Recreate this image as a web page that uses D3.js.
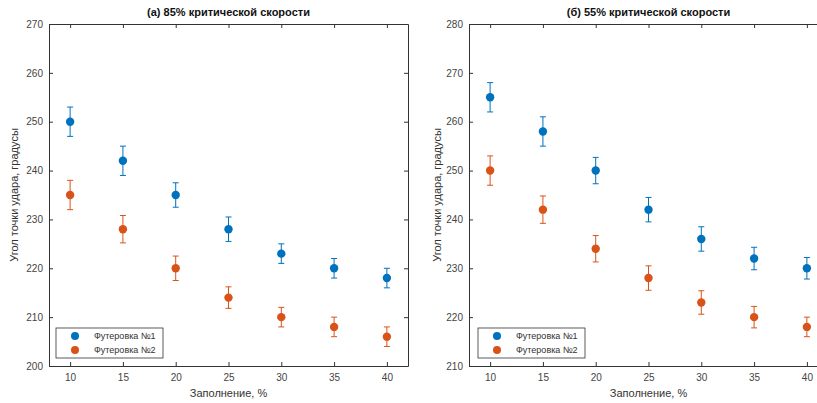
<!DOCTYPE html>
<html>
<head>
<meta charset="utf-8">
<script src="https://cdn.jsdelivr.net/npm/d3@7"></script>
<style>
  body { margin: 0; background: #fff; }
  svg { font-family: "Liberation Sans", Arial, sans-serif; }
</style>
</head>
<body>
<svg id="chart" width="817" height="403"></svg>
<script>
// fill levels, %
const fill = [10, 15, 20, 25, 30, 35, 40];

// (a) 85% of critical speed
const a_lining1 = [250, 242, 235, 228, 223, 220, 218];
const a_lining1_err = [3, 3, 2.5, 2.5, 2, 2, 2];
const a_lining2 = [235, 228, 220, 214, 210, 208, 206];
const a_lining2_err = [3, 2.8, 2.5, 2.2, 2, 2, 2];

// (б) 55% of critical speed
const b_lining1 = [265, 258, 250, 242, 236, 232, 230];
const b_lining1_err = [3, 3, 2.7, 2.5, 2.5, 2.3, 2.2];
const b_lining2 = [250, 242, 234, 228, 223, 220, 218];
const b_lining2_err = [3, 2.8, 2.7, 2.5, 2.4, 2.2, 2];

const a_yticks = [200, 210, 220, 230, 240, 250, 260, 270];
const b_yticks = [210, 220, 230, 240, 250, 260, 270, 280];

const seriesNames = ["Футеровка №1", "Футеровка №2"];
const colors = ["#0072BD", "#D95319"];

const svg = d3.select("#chart");

function buildPanel(opts) {
    var margin = {left: opts.left, top: 24};
    var width = 359, height = 342;

    const g = svg.append("g")
        .attr("transform", "translate(" + margin.left + "," + margin.top + ")");

    const x = d3.scaleLinear().domain([8, 42]).range([0, width]);
    const y = d3.scaleLinear().domain(opts.ydomain).range([height, 0]);

    // ticks inside, like matlab
    const xAxis = d3.axisBottom(x).tickValues(fill).tickSizeInner(-4).tickSizeOuter(0).tickPadding(8);
    const yAxis = d3.axisLeft(y).tickValues(opts.yticks).tickSizeInner(-4).tickSizeOuter(0).tickPadding(6);

    const gx = g.append("g").attr("transform", "translate(0," + height + ")").call(xAxis);
    const gy = g.append("g").call(yAxis);
    // top and right mirror ticks
    const gxt = g.append("g").call(d3.axisTop(x).tickValues(fill).tickSizeInner(-4).tickSizeOuter(0).tickFormat(""));
    const gyr = g.append("g").attr("transform", "translate(" + width + ",0)")
        .call(d3.axisRight(y).tickValues(opts.yticks).tickSizeInner(-4).tickSizeOuter(0).tickFormat(""));

    [gx, gy, gxt, gyr].forEach(function(a) {
        a.select(".domain").attr("stroke", "#333").attr("stroke-width", 1);
        a.selectAll(".tick line").attr("stroke", "#333");
        a.selectAll(".tick text").attr("fill", "#444").style("font-size", "10px");
    });

    // title
    g.append("text")
        .attr("x", width / 2)
        .attr("y", -8)
        .attr("text-anchor", "middle")
        .style("font-size", "11px")
        .style("font-weight", 700)
        .attr("fill", "#111")
        .text(opts.title);

    // axis labels
    g.append("text")
        .attr("x", x(25))
        .attr("y", height + 31)
        .attr("text-anchor", "middle")
        .style("font-size", "11px")
        .attr("fill", "#333")
        .text("Заполнение, %");

    g.append("text")
        .attr("transform", "translate(" + (-opts.ylabelOff) + "," + (height / 2) + ") rotate(-90)")
        .attr("text-anchor", "middle")
        .style("font-size", "11px")
        .attr("fill", "#333")
        .text("Угол точки удара, градусы");

    // error bars + markers
    opts.series.forEach(function(s, i) {
        const pts = fill.map(function(f, k) { return {x: f, v: s.vals[k], e: s.errs[k]}; });
        const eg = g.append("g").attr("stroke", colors[i]).attr("stroke-width", 1);
        eg.selectAll(".stem").data(pts).join("line")
            .attr("x1", d => x(d.x)).attr("x2", d => x(d.x))
            .attr("y1", d => y(d.v - d.e)).attr("y2", d => y(d.v + d.e));
        eg.selectAll(".capt").data(pts).join("line")
            .attr("x1", d => x(d.x) - 3).attr("x2", d => x(d.x) + 3)
            .attr("y1", d => y(d.v + d.e)).attr("y2", d => y(d.v + d.e));
        eg.selectAll(".capb").data(pts).join("line")
            .attr("x1", d => x(d.x) - 3).attr("x2", d => x(d.x) + 3)
            .attr("y1", d => y(d.v - d.e)).attr("y2", d => y(d.v - d.e));
        g.append("g").selectAll("circle").data(pts).join("circle")
            .attr("cx", d => x(d.x))
            .attr("cy", d => y(d.v))
            .attr("r", 4.2)
            .attr("fill", colors[i]);
    });

    // legend
    const lg = g.append("g").attr("transform", "translate(" + opts.legendX + "," + (height - 38) + ")");
    lg.append("rect")
        .attr("width", 107).attr("height", 30)
        .attr("fill", "#fff").attr("stroke", "#333").attr("stroke-width", 0.8);
    seriesNames.forEach(function(n, i) {
        const yy = 8 + i * 14;
        lg.append("line").attr("x1", 19).attr("x2", 19).attr("y1", yy - 3).attr("y2", yy + 3)
            .attr("stroke", colors[i]);
        lg.append("circle").attr("cx", 19).attr("cy", yy).attr("r", 4).attr("fill", colors[i]);
        lg.append("text").attr("x", 38).attr("y", yy + 3)
            .style("font-size", "9px").attr("fill", "#333").text(n);
    });
}

buildPanel({
    left: 49, title: "(а) 85% критической скорости", ydomain: [200, 270], yticks: a_yticks,
    ylabelOff: 31, legendX: 7,
    series: [{vals: a_lining1, errs: a_lining1_err}, {vals: a_lining2, errs: a_lining2_err}]
});
buildPanel({
    left: 469, title: "(б) 55% критической скорости", ydomain: [210, 280], yticks: b_yticks,
    ylabelOff: 28, legendX: 9,
    series: [{vals: b_lining1, errs: b_lining1_err}, {vals: b_lining2, errs: b_lining2_err}]
});
</script>
</body>
</html>
